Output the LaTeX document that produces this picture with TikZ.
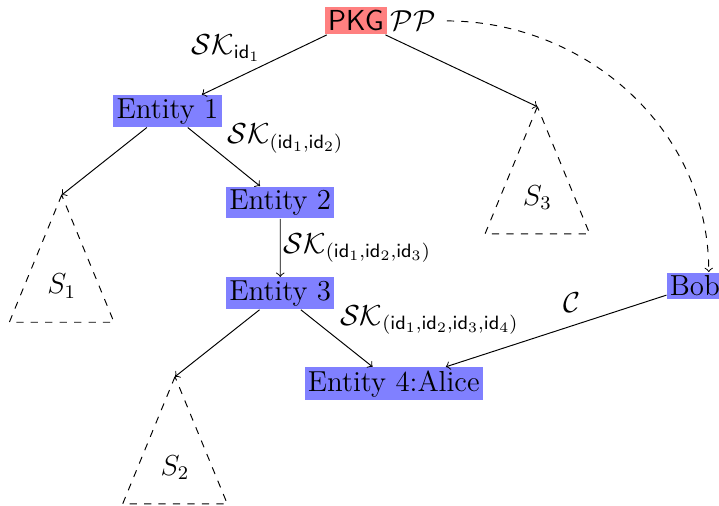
\documentclass[tikz,border=0pt,12pt]{standalone}
\usepackage{amssymb}
\usepackage{amsmath}
\usetikzlibrary{positioning}

\begin{document}
\begin{tikzpicture}
        [scale=1.175,
         every node/.style={inner sep=1.3pt},
         entity/.style={fill=blue!50},
         pkgbox/.style={fill=red!50,font=\sffamily}]
        \useasboundingbox (0,0) rectangle (8.93,-6.284);

        \node[pkgbox] (pkg) at (4.42, -0.26) {PKG};
        \node[right=0pt of pkg] (pp) {$\mathcal{PP}$};
        \node[entity] (e1) at (2.08, -1.38) {Entity 1};
        \node[entity] (e2) at (3.48, -2.515) {Entity 2};
        \node[entity] (e3) at (3.48, -3.643) {Entity 3};
        \node[entity] (e4) at (4.89, -4.765) {Entity 4:Alice};
        \node[entity] (bob) at (8.63, -3.55) {Bob};

        % subtrees
        \coordinate (t1) at (0.766, -2.422);
        \coordinate (t2) at (2.173, -4.678);
        \coordinate (t3) at (6.673, -1.325);
        \foreach \t/\s in {t1/1, t2/2, t3/3} {
            \draw[dashed] (\t) -- ++(-0.65, -1.58) -- ++(1.3, 0) -- cycle;
            \path (\t) ++(0, -1.13) node (s\s) {$S_{\s}$};
        }

        \foreach \from/\to in {pkg/t3, e1/t1, e3/t2}
            \draw[->] (\from) -- (\to);

        \draw[->] (pkg) -- node[above left] (k1) {$\mathcal{SK}_{\mathsf{id}_1}$} (e1);
        \draw[->] (e1) -- node[above right] (k2) {$\mathcal{SK}_{(\mathsf{id}_1,\mathsf{id}_2)}$} (e2);
        \draw[->] (e2) -- node[right] (k3) {$\mathcal{SK}_{(\mathsf{id}_1,\mathsf{id}_2,\mathsf{id}_3)}$} (e3);
        \draw[->] (e3) -- node[above right] (k4) {$\mathcal{SK}_{(\mathsf{id}_1,\mathsf{id}_2,\mathsf{id}_3,\mathsf{id}_4)}$} (e4);
        \draw[->] (bob) -- node[pos=0.43, above=4pt] (c) {$\mathcal{C}$} (e4);
        \draw[->, dashed, shorten <=3pt] (pp) to[out=0, in=90] (bob.45);

      \end{tikzpicture}
\end{document}
